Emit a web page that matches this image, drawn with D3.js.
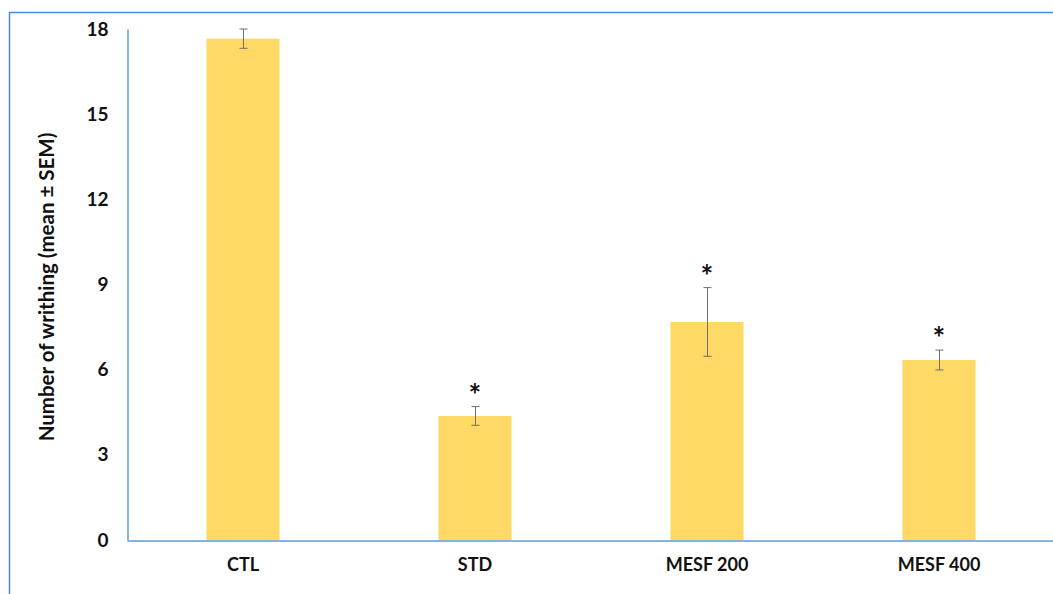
<!DOCTYPE html>
<html>
<head>
<meta charset="utf-8">
<script src="https://cdn.jsdelivr.net/npm/d3@7"></script>
<style>
  html, body { margin: 0; padding: 0; background: #fff; }
  svg { display: block; }
  text { font-family: Lato, "Open Sans", "Liberation Sans", sans-serif; }
</style>
</head>
<body>
<svg id="chart" width="1053" height="594"></svg>
<script>
// Writhing counts per treatment group (mean ± SEM)
const categories = ["CTL", "STD", "MESF 200", "MESF 400"];
const means = [17.66, 4.37, 7.68, 6.34];
const sems = [0.34, 0.33, 1.21, 0.35];
const significant = [false, true, true, true];
const yTicks = [0, 3, 6, 9, 12, 15, 18];
const yTitle = "Number of writhing (mean ± SEM)";

const svg = d3.select("#chart");

// frame around the chart area
svg.append("path")
  .attr("d", "M9.5,600 V12.5 H1060")
  .attr("fill", "none")
  .attr("stroke", "#4a86e8")
  .attr("stroke-width", 1.5);

const x = d3.scaleBand()
  .domain(categories)
  .range([127, 1055])
  .paddingInner(0.685)
  .paddingOuter(0.3425);

const y = d3.scaleLinear().domain([0, 18]).range([540, 29]);

// bars
svg.append("g").selectAll("rect")
  .data(categories)
  .join("rect")
  .attr("x", d => x(d))
  .attr("width", x.bandwidth())
  .attr("y", (d, i) => y(means[i]))
  .attr("height", (d, i) => y(0) - y(means[i]))
  .attr("fill", "#ffd966");

// error bars
const eb = svg.append("g").attr("stroke", "#6f6f6f").attr("stroke-width", 1);
categories.forEach((c, i) => {
  const cx = Math.round(x(c) + x.bandwidth() / 2) + 0.5;
  const y1 = y(means[i] + sems[i]), y2 = y(means[i] - sems[i]);
  eb.append("line").attr("x1", cx).attr("x2", cx).attr("y1", y1).attr("y2", y2);
  eb.append("line").attr("x1", cx - 4).attr("x2", cx + 4).attr("y1", y1).attr("y2", y1);
  eb.append("line").attr("x1", cx - 4).attr("x2", cx + 4).attr("y1", y2).attr("y2", y2);
});

// significance markers
svg.append("g").selectAll("text")
  .data(categories.filter((c, i) => significant[i]))
  .join("text")
  .attr("x", d => x(d) + x.bandwidth() / 2)
  .attr("y", d => { const i = categories.indexOf(d); return y(means[i] + sems[i]) - 1; })
  .attr("text-anchor", "middle")
  .attr("font-size", 30)
  .attr("font-weight", "bold")
  .attr("fill", "#111")
  .text("*");

// y axis
const yAxis = svg.append("g")
  .attr("transform", "translate(127.5,0)")
  .call(d3.axisLeft(y).tickValues(yTicks).tickSize(0).tickPadding(19));
yAxis.select(".domain").attr("stroke", "#5b9bd5").attr("stroke-width", 1.5);
yAxis.selectAll("text")
  .attr("font-size", 19)
  .attr("font-weight", "bold")
  .attr("fill", "#111")
  .attr("font-family", "Lato, 'Open Sans', sans-serif");

// x axis
const xAxis = svg.append("g")
  .attr("transform", "translate(0,540.5)")
  .call(d3.axisBottom(x).tickSize(0).tickPadding(18));
xAxis.select(".domain").attr("stroke", "#5b9bd5").attr("stroke-width", 1.5);
xAxis.selectAll("text")
  .attr("font-size", 18)
  .attr("font-weight", "bold")
  .attr("fill", "#111")
  .attr("font-family", "Lato, 'Open Sans', sans-serif");

// y axis title
svg.append("text")
  .attr("transform", "translate(54,287) rotate(-90)")
  .attr("text-anchor", "middle")
  .attr("font-size", 20.5)
  .attr("font-weight", "bold")
  .attr("fill", "#111")
  .text(yTitle);
</script>
</body>
</html>
